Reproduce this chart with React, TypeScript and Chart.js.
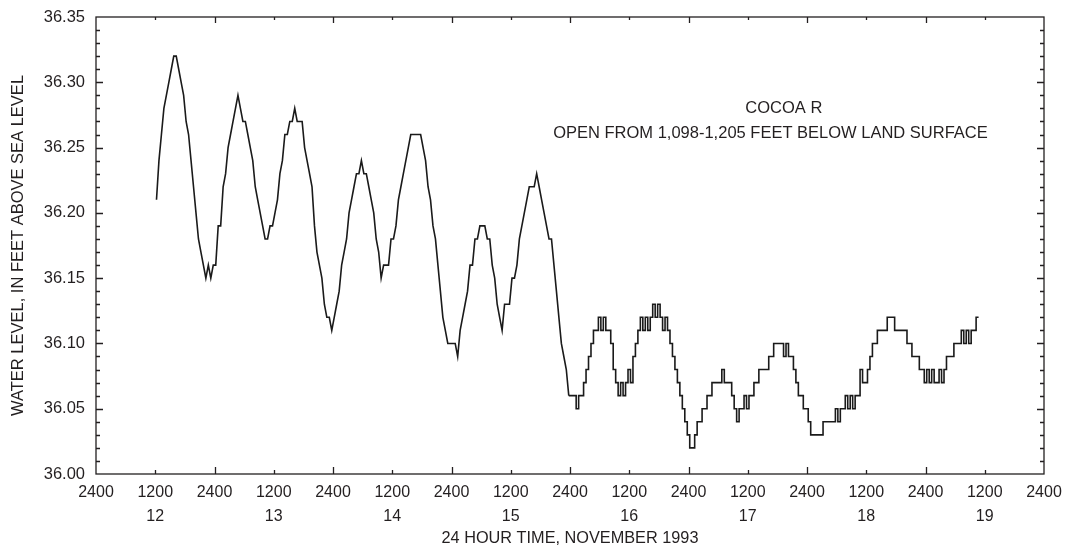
import { useEffect, useRef } from "react";
import { Chart, registerables } from "chart.js";

Chart.register(...registerables);

// Readings every half hour, hours counted from 0000 on November 12, 1993
const START_HOUR = 12.25;
const STEP_HOURS = 0.5;

const nov12Levels = [
  36.21, 36.24, 36.26, 36.28, 36.29, 36.30, 36.31, 36.32, 36.32, 36.31, 36.30, 36.29,
  36.27, 36.26, 36.24, 36.22, 36.20, 36.18, 36.17, 36.16, 36.15, 36.16, 36.15, 36.16,
];
const nov13Levels = [
  36.16, 36.19, 36.19, 36.22, 36.23, 36.25, 36.26, 36.27, 36.28, 36.29, 36.28, 36.27,
  36.27, 36.26, 36.25, 36.24, 36.22, 36.21, 36.20, 36.19, 36.18, 36.18, 36.19, 36.19,
  36.20, 36.21, 36.23, 36.24, 36.26, 36.26, 36.27, 36.27, 36.28, 36.27, 36.27, 36.27,
  36.25, 36.24, 36.23, 36.22, 36.19, 36.17, 36.16, 36.15, 36.13, 36.12, 36.12, 36.11,
];
const nov14Levels = [
  36.12, 36.13, 36.14, 36.16, 36.17, 36.18, 36.20, 36.21, 36.22, 36.23, 36.23, 36.24,
  36.23, 36.23, 36.22, 36.21, 36.20, 36.18, 36.17, 36.15, 36.16, 36.16, 36.16, 36.18,
  36.18, 36.19, 36.21, 36.22, 36.23, 36.24, 36.25, 36.26, 36.26, 36.26, 36.26, 36.26,
  36.25, 36.24, 36.22, 36.21, 36.19, 36.18, 36.16, 36.14, 36.12, 36.11, 36.10, 36.10,
];
const nov15Levels = [
  36.10, 36.10, 36.09, 36.11, 36.12, 36.13, 36.14, 36.16, 36.16, 36.18, 36.18, 36.19,
  36.19, 36.19, 36.18, 36.18, 36.16, 36.15, 36.13, 36.12, 36.11, 36.13, 36.13, 36.13,
  36.15, 36.15, 36.16, 36.18, 36.19, 36.20, 36.21, 36.22, 36.22, 36.22, 36.23, 36.22,
  36.21, 36.20, 36.19, 36.18, 36.18, 36.16, 36.14, 36.12, 36.10, 36.09, 36.08, 36.06,
];
const nov16Levels = [
  36.06, 36.06, 36.05, 36.06, 36.06, 36.07, 36.08, 36.09, 36.10, 36.11, 36.11, 36.12,
  36.11, 36.12, 36.11, 36.11, 36.10, 36.08, 36.07, 36.06, 36.07, 36.06, 36.07, 36.08,
  36.07, 36.09, 36.10, 36.11, 36.12, 36.11, 36.12, 36.11, 36.12, 36.13, 36.12, 36.13,
  36.12, 36.11, 36.12, 36.11, 36.10, 36.09, 36.08, 36.07, 36.06, 36.05, 36.04, 36.03,
];
const nov17Levels = [
  36.02, 36.02, 36.03, 36.04, 36.04, 36.05, 36.05, 36.06, 36.06, 36.07, 36.07, 36.07,
  36.07, 36.08, 36.07, 36.07, 36.07, 36.06, 36.05, 36.04, 36.05, 36.05, 36.06, 36.05,
  36.06, 36.06, 36.07, 36.07, 36.08, 36.08, 36.08, 36.08, 36.09, 36.09, 36.10, 36.10,
  36.10, 36.10, 36.09, 36.10, 36.09, 36.09, 36.08, 36.07, 36.06, 36.06, 36.05, 36.05,
];
const nov18Levels = [
  36.04, 36.03, 36.03, 36.03, 36.03, 36.03, 36.04, 36.04, 36.04, 36.04, 36.04, 36.05,
  36.04, 36.05, 36.05, 36.06, 36.05, 36.06, 36.05, 36.06, 36.06, 36.08, 36.07, 36.07,
  36.08, 36.09, 36.10, 36.10, 36.11, 36.11, 36.11, 36.11, 36.12, 36.12, 36.12, 36.11,
  36.11, 36.11, 36.11, 36.11, 36.10, 36.10, 36.09, 36.09, 36.09, 36.08, 36.08, 36.07,
];
const nov19Levels = [
  36.08, 36.07, 36.08, 36.07, 36.07, 36.08, 36.07, 36.08, 36.09, 36.09, 36.09, 36.10,
  36.10, 36.10, 36.11, 36.10, 36.11, 36.10, 36.11, 36.11, 36.12, 36.12,
];

const tickHours = [0, 12, 24, 36, 48, 60, 72, 84, 96, 108, 120, 132, 144, 156, 168, 180, 192];
const timeTickLabels = [
  "2400", "1200", "2400", "1200", "2400", "1200", "2400", "1200", "2400",
  "1200", "2400", "1200", "2400", "1200", "2400", "1200", "2400",
];
const dayTickLabels = ["", "12", "", "13", "", "14", "", "15", "", "16", "", "17", "", "18", "", "19", ""];
const levelTicks = [36.0, 36.05, 36.1, 36.15, 36.2, 36.25, 36.3, 36.35];
const levelTickLabels = ["36.00", "36.05", "36.10", "36.15", "36.20", "36.25", "36.30", "36.35"];

const noteLines = ["COCOA R", "OPEN FROM 1,098-1,205 FEET BELOW LAND SURFACE"];

const FONT = '"Liberation Sans", Arial, Helvetica, sans-serif';
const INK = "#231f20";
const LINE = "#1a1a1a";

const framePlugin = {
  id: "frame",
  afterDraw(chart: any) {
    const { ctx, chartArea: a, scales } = chart;
    const xs = scales.x;
    const ys = scales.y;
    ctx.save();
    ctx.strokeStyle = INK;
    ctx.lineWidth = 1.3;
    ctx.strokeRect(a.left, a.top, a.right - a.left, a.bottom - a.top);
    ctx.beginPath();
    tickHours.forEach((h) => {
      if (h <= xs.min || h >= xs.max) return;
      const px = Math.round(xs.getPixelForValue(h)) + 0.5;
      const major = h % 24 === 0;
      const lb = major ? 7 : 4;
      const lt = major ? 6 : 3;
      ctx.moveTo(px, a.bottom);
      ctx.lineTo(px, a.bottom - lb);
      ctx.moveTo(px, a.top);
      ctx.lineTo(px, a.top + lt);
    });
    for (let k = 1; k < 35; k++) {
      const py = Math.round(ys.getPixelForValue(36 + k / 100)) + 0.5;
      const len = k % 5 === 0 ? 7 : 4;
      ctx.moveTo(a.left, py);
      ctx.lineTo(a.left + len, py);
      ctx.moveTo(a.right, py);
      ctx.lineTo(a.right - len, py);
    }
    ctx.stroke();

    ctx.fillStyle = INK;
    ctx.font = `16.5px ${FONT}`;
    ctx.textAlign = "center";
    ctx.textBaseline = "middle";
    ctx.fillText(noteLines[0], xs.getPixelForValue(139.3), ys.getPixelForValue(36.28));
    ctx.fillText(noteLines[1], xs.getPixelForValue(136.6), ys.getPixelForValue(36.261));
    ctx.restore();
  },
};

export default function App() {
  const canvasRef = useRef<HTMLCanvasElement | null>(null);

  useEffect(() => {
    if (!canvasRef.current) return;
    const firstLevels = [...nov12Levels, ...nov13Levels, ...nov14Levels, ...nov15Levels];
    const laterLevels = [...nov16Levels, ...nov17Levels, ...nov18Levels, ...nov19Levels];
    const firstPoints = firstLevels.map((v, i) => ({ x: START_HOUR + i * STEP_HOURS, y: v }));
    const offset = firstLevels.length;
    const laterPoints = [
      firstPoints[firstPoints.length - 1],
      ...laterLevels.map((v, i) => ({ x: START_HOUR + (offset + i) * STEP_HOURS, y: v })),
    ];

    const chart = new Chart(canvasRef.current, {
      type: "line",
      data: {
        datasets: [
          {
            data: firstPoints,
            borderColor: LINE,
            borderWidth: 1.6,
            pointRadius: 0,
            tension: 0,
            fill: false,
          },
          {
            data: laterPoints,
            borderColor: LINE,
            borderWidth: 1.6,
            pointRadius: 0,
            stepped: true,
            fill: false,
          },
        ],
      },
      options: {
        animation: false,
        responsive: false,
        maintainAspectRatio: false,
        layout: { padding: { left: 0, right: 21, top: 17, bottom: 0 } },
        plugins: { legend: { display: false }, tooltip: { enabled: false } },
        scales: {
          x: {
            type: "linear",
            min: 0,
            max: 192,
            afterBuildTicks: (s: any) => {
              s.ticks = tickHours.map((value) => ({ value }));
            },
            afterFit: (s: any) => {
              s.height = 76;
              s.paddingLeft = 0;
              s.paddingRight = 0;
            },
            grid: { display: false, drawTicks: false },
            border: { display: false },
            ticks: {
              autoSkip: false,
              maxRotation: 0,
              padding: 7,
              color: INK,
              font: { family: FONT, size: 16, lineHeight: 1.5 },
              callback: (_v: any, i: number) =>
                dayTickLabels[i] ? [timeTickLabels[i], dayTickLabels[i]] : timeTickLabels[i],
            },
            title: {
              display: true,
              text: "24 HOUR TIME, NOVEMBER 1993",
              color: INK,
              font: { family: FONT, size: 16.3 },
              padding: { top: 0, bottom: 2 },
            },
          },
          y: {
            type: "linear",
            min: 36.0,
            max: 36.35,
            afterBuildTicks: (s: any) => {
              s.ticks = levelTicks.map((value) => ({ value }));
            },
            afterFit: (s: any) => {
              s.width = 96;
              s.paddingTop = 0;
              s.paddingBottom = 0;
            },
            grid: { display: false, drawTicks: false },
            border: { display: false },
            ticks: {
              padding: 11,
              color: INK,
              font: { family: FONT, size: 16.5 },
              callback: (_v: any, i: number) => levelTickLabels[i],
            },
            title: {
              display: true,
              text: "WATER LEVEL, IN FEET ABOVE SEA LEVEL",
              color: INK,
              font: { family: FONT, size: 16.5 },
              padding: { top: 9, bottom: 0 },
            },
          },
        },
      },
      plugins: [framePlugin],
    });

    return () => chart.destroy();
  }, []);

  return (
    <div style={{ position: "absolute", left: 0, top: 0, width: 1065, height: 550, background: "#fff" }}>
      <canvas ref={canvasRef} width={1065} height={550} style={{ display: "block" }} />
    </div>
  );
}
